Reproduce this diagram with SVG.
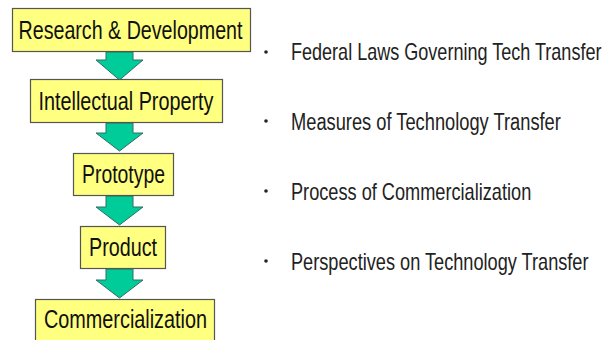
<svg xmlns="http://www.w3.org/2000/svg" width="606" height="340" viewBox="0 0 606 340">
  <style>
    .box { fill: #ffff80; stroke: #555555; stroke-width: 1.2; }
    .lbl { font-family: "Liberation Sans", Arial, sans-serif; font-size: 25px; fill: #111111; }
    .arrow { fill: #00cc99; stroke: #2f6f62; stroke-width: 1; stroke-linejoin: miter; }
    .item { font-family: "Liberation Sans", Arial, sans-serif; font-size: 23px; fill: #222222; }
    .dot { fill: #222222; }
  </style>
  <rect width="606" height="340" fill="#ffffff"/>

  <!-- flow connectors: block arrows between stages -->
  <g id="connectors">
    <path class="arrow" d="M106,52 H133 V60 H143 L119.5,80 L96,60 H106 Z"/>
    <path class="arrow" d="M106,123 H133 V133 H143 L119.5,151 L96,133 H106 Z"/>
    <path class="arrow" d="M106,196 H133 V207 H143 L119.5,225 L96,207 H106 Z"/>
    <path class="arrow" d="M106,269 H133 V280 H143 L119.5,298 L96,280 H106 Z"/>
  </g>

  <g id="node-rd">
    <rect class="box" x="12.5" y="8.5" width="238" height="43"/>
    <text class="lbl" x="18.5" y="38.5" textLength="224" lengthAdjust="spacingAndGlyphs">Research &amp; Development</text>
  </g>
  <g id="node-ip">
    <rect class="box" x="30.5" y="79.5" width="192" height="43"/>
    <text class="lbl" x="38.5" y="110" textLength="175" lengthAdjust="spacingAndGlyphs">Intellectual Property</text>
  </g>
  <g id="node-prototype">
    <rect class="box" x="73.5" y="153.5" width="100" height="42"/>
    <text class="lbl" x="82" y="183" textLength="83" lengthAdjust="spacingAndGlyphs">Prototype</text>
  </g>
  <g id="node-product">
    <rect class="box" x="80.5" y="226.5" width="85" height="42"/>
    <text class="lbl" x="89" y="256" textLength="68" lengthAdjust="spacingAndGlyphs">Product</text>
  </g>
  <g id="node-commercialization">
    <rect class="box" x="35.5" y="299.5" width="179" height="46"/>
    <text class="lbl" x="44" y="328" textLength="163" lengthAdjust="spacingAndGlyphs">Commercialization</text>
  </g>

  <!-- topic list, set in a condensed face by horizontal scaling -->
  <g id="topics">
    <circle class="dot" cx="266" cy="52" r="1.8"/>
    <text class="item" transform="translate(291 60) scale(0.785 1)">Federal Laws Governing Tech Transfer</text>
    <circle class="dot" cx="266" cy="121" r="1.8"/>
    <text class="item" transform="translate(291 129.5) scale(0.795 1)">Measures of Technology Transfer</text>
    <circle class="dot" cx="266" cy="191" r="1.8"/>
    <text class="item" transform="translate(291 199.5) scale(0.79 1)">Process of Commercialization</text>
    <circle class="dot" cx="266" cy="261" r="1.8"/>
    <text class="item" transform="translate(291 269.5) scale(0.79 1)">Perspectives on Technology Transfer</text>
  </g>
</svg>
